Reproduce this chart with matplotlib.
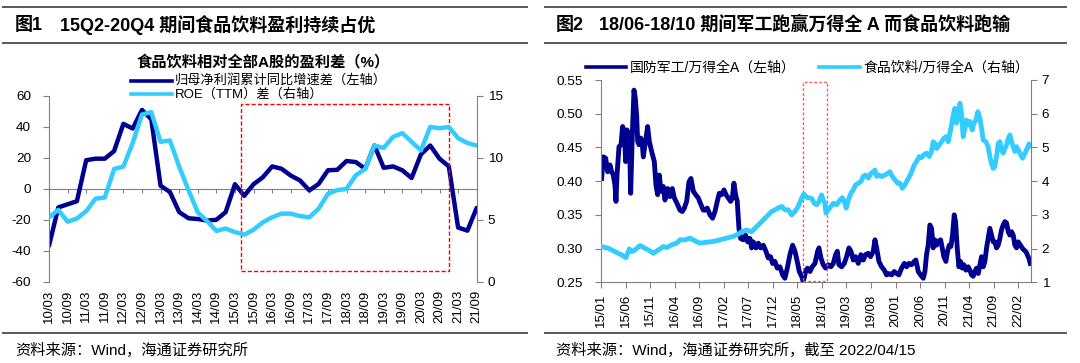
import numpy as np
import matplotlib.pyplot as plt
from matplotlib.lines import Line2D
from matplotlib.patches import Rectangle

plt.rcParams['font.family'] = ['Liberation Sans', 'Noto Sans CJK SC']
plt.rcParams['axes.unicode_minus'] = False

# ---- chart 1: quarterly 2010Q1 - 2021Q3 ----
q_labels = ['10/03', '10/09', '11/03', '11/09', '12/03', '12/09', '13/03', '13/09',
            '14/03', '14/09', '15/03', '15/09', '16/03', '16/09', '17/03', '17/09',
            '18/03', '18/09', '19/03', '19/09', '20/03', '20/09', '21/03', '21/09']
# 归母净利润累计同比增速差 (left axis)
profit_diff = [-36.8, -12, -10, -8, 18.5, 19.5, 19.5, 24.4, 42, 39, 51, 45,
               2, -2, -15, -19, -19.5, -20.5, -20, -15, 3, -4.5, 3, 7.5,
               14.5, 13, 8.6, 5.4, -1, 3.2, 12, 12.3, 18, 17.3, 13, 28,
               13.6, 14.5, 12, 7, 22.3, 28, 19.5, 14.5, -25, -27, -12.3]
# ROE(TTM) 差 (right axis)
roe_diff = [5.2, 5.8, 4.85, 5.1, 5.7, 6.7, 6.8, 9.1, 9.3, 11.2, 13.5, 13.7,
            11.3, 11.4, 9.3, 7.4, 5.6, 4.9, 4.1, 4.3, 4.0, 3.8, 4.2, 4.8,
            5.2, 5.5, 5.5, 5.3, 5.2, 5.9, 7.1, 7.4, 7.5, 8.6, 9.1, 11.0,
            10.8, 11.7, 12.0, 11.3, 10.6, 12.5, 12.4, 12.5, 11.6, 11.2, 11.0]

# ---- chart 2: months since 2015-01 ----
m_labels = ['15/01', '15/06', '15/11', '16/04', '16/09', '17/02', '17/07', '17/12', '18/05',
            '18/10', '19/03', '19/08', '20/01', '20/06', '20/11', '21/04', '21/09', '22/02']
# 国防军工/万得全A
def_t = [0.14, 0.48, 0.95, 1.36, 1.83, 2.17, 2.51, 2.85, 3.05, 3.26, 3.67, 4.07, 4.41, 4.75,
         5.02, 5.30, 5.57, 5.77, 6.04, 6.38, 6.72, 6.99, 7.26, 7.47, 7.74, 8.08, 8.42, 8.62,
         8.96, 9.50, 9.84, 10.32, 10.86, 11.20, 11.54, 11.88, 12.22, 12.70, 13.03, 13.58,
         14.05, 14.53, 14.94, 15.61, 16.09, 16.56, 16.97, 17.45, 17.92, 18.33, 18.81, 19.28,
         19.82, 20.37, 20.84, 21.18, 21.65, 22.20, 22.74, 23.22, 23.69, 24.10, 24.57, 25.05,
         25.46, 25.93, 26.41, 26.75, 27.08, 27.42, 27.76, 28.10, 28.44, 28.99, 29.46, 29.87,
         30.34, 30.68, 31.02, 31.57, 32.04, 32.52, 33.06, 33.60, 34.08, 34.55, 34.96, 35.43,
         35.91, 36.45, 37.00, 37.47, 37.95, 38.49, 39.03, 39.51, 39.98, 40.39, 40.87, 41.21,
         41.75, 42.09, 42.57, 43.04, 43.59, 44.13, 44.40, 44.81, 45.28, 45.76, 46.30, 46.85,
         47.32, 47.80, 48.14, 48.47, 49.02, 49.56, 50.04, 50.51, 50.92, 51.39, 51.87, 52.41,
         52.96, 53.43, 53.91, 54.45, 54.92, 55.47, 55.81, 56.15, 56.62, 57.16, 57.71, 58.18,
         58.66, 59.20, 59.74, 60.22, 60.69, 61.24, 61.78, 62.26, 62.73, 63.27, 63.82, 64.15,
         64.63, 65.10, 65.65, 65.99, 66.32, 66.66, 67.00, 67.34, 67.68, 68.02, 68.36, 68.70,
         69.18, 69.52, 69.85, 70.26, 70.60, 70.94, 71.28, 71.62, 71.96, 72.23, 72.57, 72.91,
         73.25, 73.59, 73.93, 74.34, 74.81, 75.15, 75.49, 75.83, 76.17, 76.51, 76.85, 77.19,
         77.53, 77.87, 78.21, 78.55, 78.88, 79.22, 79.56, 79.90, 80.24, 80.58, 80.92, 81.26,
         81.60, 81.94, 82.28, 82.62, 82.96, 83.30, 83.64, 83.98, 84.32, 84.66, 85.00, 85.90,
         86.60, 87.20, 87.45]
def_v = [0.404, 0.436, 0.434, 0.414, 0.424, 0.414, 0.409, 0.394, 0.370, 0.409, 0.451, 0.454,
         0.481, 0.473, 0.429, 0.476, 0.439, 0.471, 0.382, 0.469, 0.535, 0.523, 0.498, 0.459,
         0.454, 0.464, 0.454, 0.436, 0.454, 0.481, 0.459, 0.444, 0.429, 0.394, 0.380, 0.409,
         0.385, 0.392, 0.372, 0.389, 0.377, 0.389, 0.375, 0.365, 0.357, 0.355, 0.360, 0.370,
         0.399, 0.404, 0.385, 0.380, 0.375, 0.365, 0.357, 0.357, 0.360, 0.350, 0.345, 0.355,
         0.370, 0.382, 0.380, 0.387, 0.380, 0.375, 0.370, 0.375, 0.397, 0.380, 0.370, 0.330,
         0.315, 0.313, 0.320, 0.310, 0.315, 0.301, 0.310, 0.301, 0.308, 0.301, 0.305, 0.296,
         0.286, 0.288, 0.278, 0.281, 0.271, 0.273, 0.261, 0.256, 0.271, 0.291, 0.305, 0.296,
         0.281, 0.266, 0.259, 0.251, 0.268, 0.271, 0.266, 0.273, 0.278, 0.296, 0.301, 0.286,
         0.276, 0.271, 0.276, 0.273, 0.278, 0.291, 0.296, 0.276, 0.273, 0.278, 0.288, 0.301,
         0.296, 0.283, 0.288, 0.278, 0.291, 0.283, 0.291, 0.293, 0.288, 0.296, 0.313, 0.301,
         0.281, 0.273, 0.268, 0.261, 0.263, 0.261, 0.266, 0.263, 0.261, 0.271, 0.278, 0.273,
         0.278, 0.276, 0.281, 0.283, 0.266, 0.261, 0.256, 0.266, 0.291, 0.305, 0.335, 0.330,
         0.301, 0.313, 0.305, 0.310, 0.313, 0.301, 0.288, 0.281, 0.296, 0.305, 0.303, 0.320,
         0.350, 0.340, 0.301, 0.273, 0.281, 0.271, 0.276, 0.268, 0.273, 0.268, 0.261, 0.259,
         0.266, 0.271, 0.263, 0.276, 0.288, 0.273, 0.281, 0.301, 0.315, 0.330, 0.320, 0.310,
         0.310, 0.301, 0.305, 0.315, 0.328, 0.335, 0.340, 0.338, 0.325, 0.320, 0.325, 0.320,
         0.305, 0.301, 0.310, 0.300, 0.295, 0.285, 0.278]
# 食品饮料/万得全A
food_t = [0.14, 1.49, 2.85, 4.21, 5.09, 5.77, 6.25, 6.92, 7.94, 8.96, 9.98, 10.66, 11.68,
          12.70, 13.37, 14.39, 15.41, 16.09, 17.11, 18.13, 19.14, 20.16, 21.52, 22.88, 24.23,
          25.59, 26.95, 27.97, 28.65, 29.66, 30.68, 31.36, 32.04, 32.72, 33.40, 34.08, 34.76,
          35.43, 36.11, 36.79, 37.47, 38.15, 38.83, 39.51, 40.19, 40.87, 41.34, 41.89, 42.91,
          43.45, 43.93, 44.40, 44.94, 45.28, 45.62, 45.83, 46.30, 46.85, 47.32, 48.00, 48.68,
          49.15, 49.56, 49.97, 50.38, 50.92, 51.39, 51.87, 52.41, 52.96, 53.43, 53.91, 54.45,
          54.99, 55.47, 55.81, 56.15, 56.62, 57.16, 57.84, 58.38, 58.86, 59.34, 59.88, 60.42,
          60.90, 61.37, 61.92, 62.46, 63.00, 63.41, 63.82, 64.29, 64.83, 65.31, 65.78, 66.32,
          66.87, 67.34, 67.68, 68.02, 68.36, 68.90, 69.38, 69.85, 70.26, 70.74, 71.08, 71.42,
          71.76, 72.10, 72.43, 72.77, 73.11, 73.45, 73.79, 74.13, 74.47, 74.81, 75.15, 75.63,
          75.97, 76.37, 76.78, 77.19, 77.53, 77.87, 78.41, 78.88, 79.22, 79.56, 79.90, 80.24,
          80.58, 80.92, 81.26, 81.60, 81.94, 82.28, 82.62, 82.96, 83.30, 83.64, 83.98, 84.32,
          84.66, 85.00, 85.90, 86.60, 87.20, 87.45]
food_v = [2.06, 2.01, 1.91, 1.81, 1.73, 1.99, 1.91, 1.96, 2.09, 2.01, 1.93, 1.86, 1.96,
          2.06, 2.03, 2.11, 2.16, 2.26, 2.26, 2.31, 2.23, 2.16, 2.19, 2.21, 2.26,
          2.31, 2.36, 2.43, 2.50, 2.55, 2.50, 2.60, 2.70, 2.80, 2.90, 3.00, 3.10,
          3.15, 3.20, 3.25, 3.15, 3.15, 3.00, 3.10, 3.25, 3.49, 3.62, 3.52, 3.49,
          3.34, 3.30, 3.39, 3.59, 3.44, 3.34, 3.05, 3.15, 3.25, 3.34, 3.30, 3.44,
          3.51, 3.39, 3.20, 3.44, 3.64, 3.74, 3.89, 3.94, 3.99, 4.14, 4.18, 4.09,
          4.23, 4.28, 4.33, 4.14, 4.18, 4.14, 4.18, 4.23, 4.28, 4.14, 4.04, 3.94,
          3.94, 3.79, 3.89, 4.04, 4.18, 4.33, 4.48, 4.58, 4.73, 4.70, 4.78, 4.83,
          4.73, 4.88, 5.17, 5.12, 4.97, 5.07, 5.17, 5.27, 5.32, 5.17, 5.42, 5.67,
          5.96, 6.16, 5.72, 5.96, 6.31, 6.01, 5.32, 5.57, 5.81, 5.67, 5.77, 5.52,
          5.72, 5.81, 6.06, 5.86, 5.57, 5.22, 5.17, 5.02, 4.73, 4.53, 4.38, 4.43,
          4.73, 5.12, 5.17, 4.93, 4.83, 4.97, 5.07, 5.27, 5.37, 5.17, 5.02, 4.88,
          5.02, 4.93, 4.68, 4.90, 5.10, 5.05]

DARK = '#000090'
LIGHT = '#33CCFF'
GRAY = '#808080'
RULE = '#595959'
W, H = 1080, 363


def fx(x):
    return x / W


def fy(y):
    return 1 - y / H


fig = plt.figure(figsize=(10.8, 3.63), dpi=100)

# horizontal rules (top, under title, above source)
for y in (7, 42.5, 333):
    for x0, x1 in ((3, 527), (545, 1066)):
        fig.add_artist(Line2D([fx(x0), fx(x1)], [fy(y), fy(y)], color=RULE, lw=1.4))

# headings
fig.text(fx(15), fy(25), '图1', fontsize=13, fontweight='bold', va='center')
fig.text(fx(60), fy(25), '15Q2-20Q4 期间食品饮料盈利持续占优', fontsize=13, fontweight='bold', va='center')
fig.text(fx(556), fy(25), '图2', fontsize=13, fontweight='bold', va='center')
fig.text(fx(599), fy(25), '18/06-18/10 期间军工跑赢万得全 A 而食品饮料跑输', fontsize=13,
         fontweight='bold', va='center')
fig.text(fx(15), fy(350), '资料来源：Wind，海通证券研究所', fontsize=11, va='center')
fig.text(fx(556), fy(350), '资料来源：Wind，海通证券研究所，截至 2022/04/15', fontsize=11, va='center')

# ---------------- chart 1 ----------------
fig.text(fx(263), fy(62.5), '食品饮料相对全部A股的盈利差（%）', fontsize=11, fontweight='bold',
         ha='center', va='center')
fig.add_artist(Line2D([fx(130.6), fx(172)], [fy(80.5), fy(80.5)], color=DARK, lw=2.6))
fig.text(fx(175), fy(80.5), '归母净利润累计同比增速差（左轴）', fontsize=9.5, va='center')
fig.add_artist(Line2D([fx(130.6), fx(172)], [fy(94), fy(94)], color=LIGHT, lw=2.6))
fig.text(fx(175), fy(94), 'ROE（TTM）差（右轴）', fontsize=9.5, va='center')

ax1 = fig.add_axes([fx(49), fy(281.7), (476.7 - 49) / W, (281.7 - 96) / H])
xq = np.arange(len(profit_diff))
ax1.plot(xq, profit_diff, color=DARK, lw=3.2, solid_joinstyle='round', solid_capstyle='round')
ax1.set_xlim(0, len(profit_diff) - 1)
ax1.set_ylim(-60, 60)
ax1.set_yticks(range(-60, 61, 20))
ax1.set_xticks(xq[::2])
ax1.set_xticklabels(q_labels, rotation=90)
ax1.tick_params(axis='x', length=0, pad=6, labelsize=9.5)
ax1.tick_params(axis='y', direction='out', length=4, color=GRAY, labelsize=9.7, pad=9)
for s in ('top', 'right', 'bottom'):
    ax1.spines[s].set_visible(False)
ax1.spines['left'].set_color(GRAY)
ax1.add_patch(Rectangle((20.6, -52.9), 22.4, 107.5, fill=False, ec='#FF0000', lw=1,
                        ls=(0, (3, 1.5)), zorder=5))

zero = ax1.secondary_xaxis(0.5)
zero.set_xticks(xq[::2])
zero.tick_params(labeltop=False, labelbottom=False, direction='in', length=3, color=GRAY)
for sp in zero.spines.values():
    sp.set_color(GRAY)
    sp.set_linewidth(0.8)

ax1r = ax1.twinx()
ax1r.plot(xq, roe_diff, color=LIGHT, lw=3.2, solid_joinstyle='round', solid_capstyle='round')
ax1r.set_ylim(0, 15)
ax1r.set_yticks([0, 5, 10, 15])
ax1r.tick_params(axis='y', direction='out', length=4, color=GRAY, labelsize=9.7, pad=4)
for s in ('top', 'left', 'bottom'):
    ax1r.spines[s].set_visible(False)
ax1r.spines['right'].set_color(GRAY)

# ---------------- chart 2 ----------------
fig.add_artist(Line2D([fx(586), fx(626)], [fy(67.4), fy(67.4)], color=DARK, lw=2.6))
fig.text(fx(630), fy(67.4), '国防军工/万得全A（左轴）', fontsize=10, va='center')
fig.add_artist(Line2D([fx(819), fx(860)], [fy(67.4), fy(67.4)], color=LIGHT, lw=2.6))
fig.text(fx(863), fy(67.4), '食品饮料/万得全A（右轴）', fontsize=10, va='center')

ax2 = fig.add_axes([fx(601), fy(282.3), (1030.5 - 601) / W, (282.3 - 80) / H])
ax2.plot(def_t, def_v, color=DARK, lw=3.5, solid_joinstyle='round')
ax2.set_xlim(0, 87.5)
ax2.set_ylim(0.25, 0.55)
ax2.set_yticks(np.arange(0.25, 0.551, 0.05))
ax2.set_yticklabels(['%.2f' % v for v in np.arange(0.25, 0.551, 0.05)])
ax2.set_xticks(np.arange(len(m_labels)) * 5)
ax2.set_xticklabels(m_labels, rotation=90)
ax2.tick_params(axis='x', direction='out', length=4, color=GRAY, pad=4, labelsize=9.5)
ax2.tick_params(axis='y', direction='out', length=4, color=GRAY, labelsize=9.7, pad=9)
for s in ('top', 'right'):
    ax2.spines[s].set_visible(False)
ax2.spines['left'].set_color(GRAY)
ax2.spines['bottom'].set_color(GRAY)
ax2.add_patch(Rectangle((41.2, 0.2519), 4.83, 0.2947, fill=False, ec='#FF5A5A', lw=1,
                        ls=(0, (2, 1.5)), zorder=5))

ax2r = ax2.twinx()
ax2r.plot(food_t, food_v, color=LIGHT, lw=3.5, solid_joinstyle='round')
ax2r.set_ylim(1, 7)
ax2r.set_yticks(range(1, 8))
ax2r.tick_params(axis='y', direction='out', length=4, color=GRAY, labelsize=9.7, pad=4)
for s in ('top', 'left', 'bottom'):
    ax2r.spines[s].set_visible(False)
ax2r.spines['right'].set_color(GRAY)

plt.savefig('out.png', dpi=100)
